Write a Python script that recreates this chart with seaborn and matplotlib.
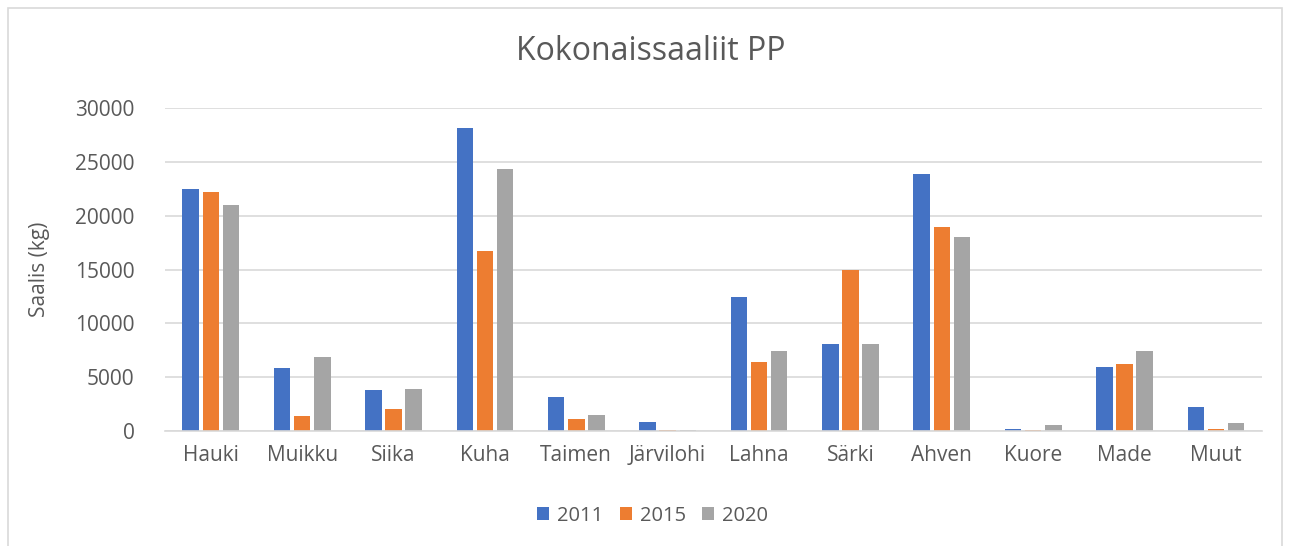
import seaborn as sns
import matplotlib.pyplot as plt
import pandas as pd
from matplotlib.patches import Rectangle

# data
lajit = ["Hauki", "Muikku", "Siika", "Kuha", "Taimen", "Järvilohi",
         "Lahna", "Särki", "Ahven", "Kuore", "Made", "Muut"]
v2011 = [22500, 5870, 3820, 28100, 3170, 840, 12480, 8040, 23910, 190, 5960, 2270]
v2015 = [22170, 1370, 2080, 16740, 1150, 90, 6430, 14940, 18910, 90, 6240, 190]
v2020 = [21020, 6860, 3940, 24320, 1520, 120, 7390, 8040, 18010, 560, 7390, 750]
vuodet = ["2011", "2015", "2020"]
colors = ["#4472C4", "#ED7D31", "#A5A5A5"]

df = pd.DataFrame({"laji": lajit * 3,
                   "vuosi": [y for y in vuodet for _ in lajit],
                   "saalis": v2011 + v2015 + v2020})

sns.set_style("white")
plt.rcParams["font.family"] = ["Open Sans", "DejaVu Sans"]

fig = plt.figure(figsize=(12.9, 5.46), dpi=100)
ax = fig.add_axes([0.128, 0.2106, 0.85, 0.5916])

sns.barplot(data=df, x="laji", y="saalis", hue="vuosi", palette=colors,
            width=0.66, gap=0.18, ax=ax, errorbar=None, saturation=1,
            linewidth=0)

ax.set_ylim(0, 30000)
ax.set_yticks(range(0, 30001, 5000))
ax.grid(axis="y", color="#D9D9D9", linewidth=1.2)
ax.set_axisbelow(True)
for s in ["top", "right", "left"]:
    ax.spines[s].set_visible(False)
ax.spines["bottom"].set_color("#D9D9D9")
ax.spines["bottom"].set_linewidth(1.2)
ax.tick_params(axis="both", length=0, labelsize=15, labelcolor="#595959")
ax.tick_params(axis="y", pad=22)
ax.tick_params(axis="x", pad=10)
ax.set_xlabel("")
ax.set_ylabel("Saalis (kg)", fontsize=15, color="#595959", labelpad=18)

fig.text(0.5045, 0.905, "Kokonaissaaliit PP", ha="center", va="center",
         fontsize=23, color="#595959")

handles, labels = ax.get_legend_handles_labels()
ax.get_legend().remove()
fig.legend(handles, labels, loc="center", bbox_to_anchor=(0.506, 0.055), ncol=3,
           frameon=False, fontsize=14.5, labelcolor="#595959", handlelength=0.6,
           handleheight=0.6, columnspacing=0.8, handletextpad=0.4)

fig.patches.append(Rectangle((8 / 1290, -0.01), 1274 / 1290, 1 - 8 / 546 + 0.01,
                             transform=fig.transFigure, fill=False,
                             edgecolor="#D9D9D9", linewidth=1.2))

fig.savefig("out.png", dpi=100)
